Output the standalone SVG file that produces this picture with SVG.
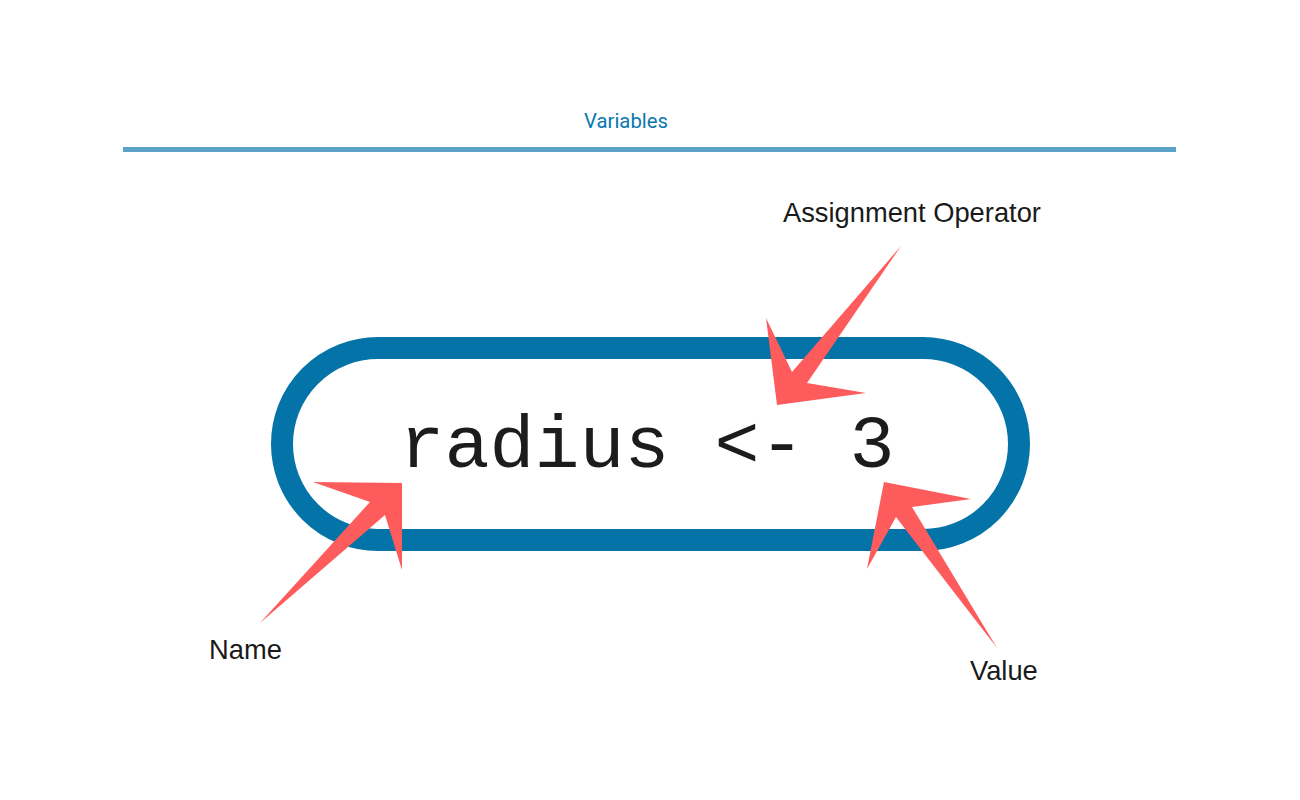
<svg xmlns="http://www.w3.org/2000/svg" width="1300" height="800" viewBox="0 0 1300 800">
<style>
.lbl{font-family:"Liberation Sans",Arial,sans-serif;font-size:27.3px;fill:#1a1a1a}
.arrow{fill:#fe5c5c}
</style>
<rect width="1300" height="800" fill="#ffffff"/>
<g id="title">
<text x="626" y="128" text-anchor="middle" font-family="Roboto, 'Liberation Sans', sans-serif" font-size="20.3" fill="#0a78ad">Variables</text>
<rect x="123" y="147" width="1053" height="5" fill="#5ba4c7"/>
</g>
<g id="pill">
<rect x="282" y="348" width="737" height="192" rx="96" ry="96" fill="none" stroke="#0474a8" stroke-width="22"/>
<text x="647" y="467" text-anchor="middle" font-family="'Liberation Mono', 'DejaVu Sans Mono', monospace" font-size="75" fill="#1c1c1c">radius &lt;- 3</text>
</g>
<g id="connectors">
<polygon class="arrow" points="402,483 313,482 370,502 260,623 385,515 402,570"/>
<polygon class="arrow" points="901,246 807,383 866,393 777,405 766,318 792,372"/>
<polygon class="arrow" points="884,482 971,499 912,507 997,648 896,517 867,569"/>
</g>
<g id="label-assign"><text class="lbl" x="783" y="222">Assignment Operator</text></g>
<g id="label-name"><text class="lbl" x="209" y="659">Name</text></g>
<g id="label-value"><text class="lbl" x="970" y="680">Value</text></g>
</svg>
